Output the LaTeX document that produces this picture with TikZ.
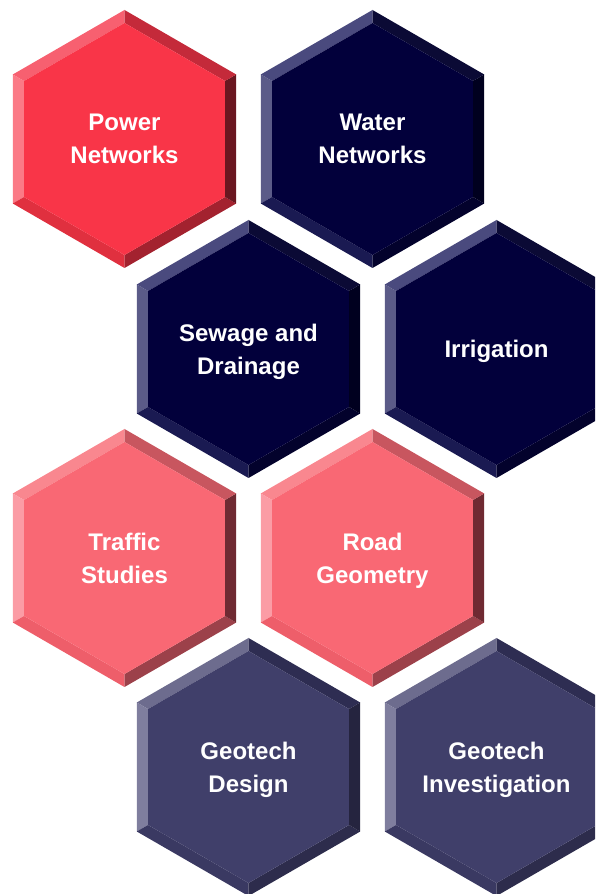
\documentclass[tikz,border=0pt]{standalone}
\usepackage{fontspec}
\setmainfont{Liberation Sans}

% face colours: 0 top, 1 upper left, 2 left, 3 lower left, 4 lower right, 5 right, 6 upper right
\definecolor{red0}{HTML}{F93548}
\definecolor{red1}{HTML}{F76070}
\definecolor{red2}{HTML}{FB7A86}
\definecolor{red3}{HTML}{E0303F}
\definecolor{red4}{HTML}{A3222F}
\definecolor{red5}{HTML}{6A1720}
\definecolor{red6}{HTML}{C42A3A}
\definecolor{navy0}{HTML}{02003B}
\definecolor{navy1}{HTML}{4A4A7E}
\definecolor{navy2}{HTML}{5B5B88}
\definecolor{navy3}{HTML}{1A1A52}
\definecolor{navy4}{HTML}{03022C}
\definecolor{navy5}{HTML}{00001F}
\definecolor{navy6}{HTML}{0B0A35}
\definecolor{pink0}{HTML}{F96874}
\definecolor{pink1}{HTML}{F9878F}
\definecolor{pink2}{HTML}{FB9CA5}
\definecolor{pink3}{HTML}{EE5E6A}
\definecolor{pink4}{HTML}{9C414A}
\definecolor{pink5}{HTML}{6F2A32}
\definecolor{pink6}{HTML}{C8565F}
\definecolor{slate0}{HTML}{403F6A}
\definecolor{slate1}{HTML}{6D6C8E}
\definecolor{slate2}{HTML}{7F7E9E}
\definecolor{slate3}{HTML}{3A3962}
\definecolor{slate4}{HTML}{2D2C4C}
\definecolor{slate5}{HTML}{25243F}
\definecolor{slate6}{HTML}{2E2D52}

\begin{document}
\begin{tikzpicture}[x=1pt,y=1pt,
    hextext/.style={text=white,align=center,inner sep=0pt,text depth=0pt,
      font=\bfseries\fontsize{24}{33}\selectfont}]
  \pgfmathsetmacro{\R}{129}
  \pgfmathsetmacro{\r}{116}
  \useasboundingbox (0,0) rectangle (595,894);
  \clip (0,0) rectangle (595,894);
  \foreach \n/\cx/\cy/\k/\txt in {
      power/124.5/755/red/{Power\\Networks},
      water/372.5/755/navy/{Water\\Networks},
      sewage/248.5/545/navy/{Sewage and\\Drainage},
      irrigation/496.5/545/navy/{Irrigation},
      traffic/124.5/336/pink/{Traffic\\Studies},
      road/372.5/336/pink/{Road\\Geometry},
      gdesign/248.5/127/slate/{Geotech\\Design},
      ginvest/496.5/127/slate/{Geotech\\Investigation}}{
    \begin{scope}[shift={(\cx,\cy)}]
      \foreach \i in {1,...,6}{
        \pgfmathsetmacro{\a}{30+60*\i}
        \fill[\k\i] (\a:\R) -- (\a+60:\R) -- (\a+60:\r) -- (\a:\r) -- cycle;
      }
      \fill[\k0] (90:\r) -- (150:\r) -- (210:\r) -- (270:\r)
        -- (330:\r) -- (30:\r) -- cycle;
    \end{scope}
    \node[hextext] (\n) at (\cx,\cy) {\txt};
  }
\end{tikzpicture}
\end{document}
